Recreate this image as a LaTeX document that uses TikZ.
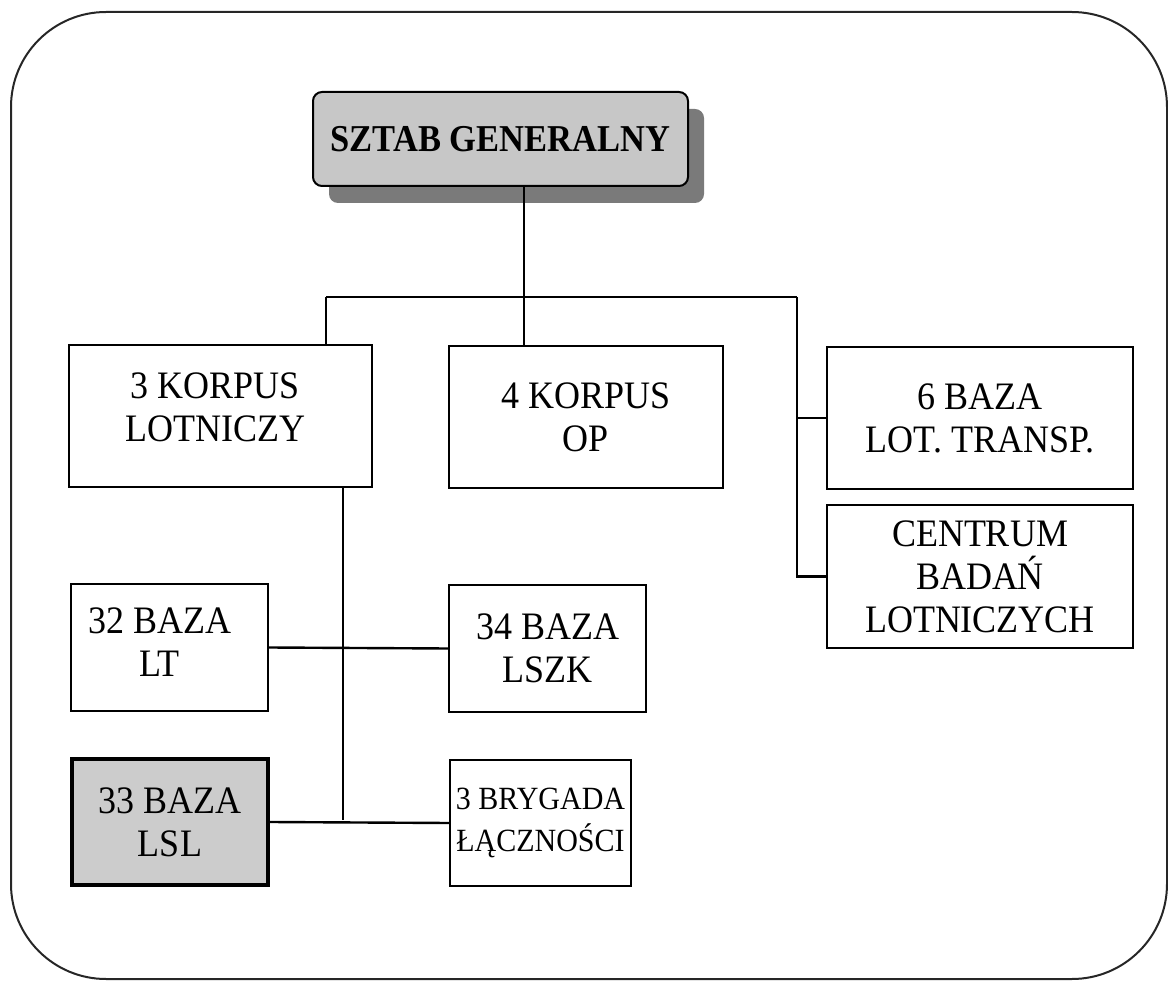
\documentclass[tikz,border=0pt]{standalone}
\usepackage{graphicx}
\usepackage{fontspec}
\setmainfont{Liberation Serif}
\newcommand\vst[1]{\scalebox{1}[1.08]{#1}}
\begin{document}
\begin{tikzpicture}[x=1pt,y=-1pt,
  unitbox/.style={draw=black, line width=1.8pt, fill=white, rectangle, align=center,
    inner sep=0pt, font=\fontsize{36}{43}\selectfont},
  txt/.style={align=center, inner sep=0pt, font=\fontsize{36}{43}\selectfont},
  conn/.style={draw=black, line width=2.4pt},
  frame/.style={draw=black!85, line width=2pt, rounded corners=95pt}]
\useasboundingbox (0,0) rectangle (1168,981);
\draw[frame] (11,12) rectangle (1167,979);

% headquarters with shadow
\node[rectangle, rounded corners=9pt, fill=black!52, minimum width=375pt, minimum height=94pt]
  (sztabshadow) at (516.5,156) {};
\node[rectangle, rounded corners=9pt, draw=black, line width=2pt, fill=black!22,
  minimum width=375pt, minimum height=94pt, inner sep=0pt,
  font=\fontsize{34.5}{40}\selectfont\bfseries] (sztab) at (500.5,139) {\scalebox{1}[1.1]{SZTAB GENERALNY}};

% level 1
\node[unitbox, minimum width=303pt, minimum height=142pt] (k3) at (220.5,416) {};
\node[txt, yshift=9pt, xshift=-5pt] (k3t) at (k3) {\vst{3 KORPUS}\\\vst{LOTNICZY}};
\node[unitbox, minimum width=274pt, minimum height=142pt] (k4) at (586,417) {\vst{4 KORPUS}\\\vst{OP}};
\node[unitbox, minimum width=306pt, minimum height=142pt] (b6) at (980,418) {\vst{6 BAZA}\\\vst{LOT. TRANSP.}};
\node[unitbox, minimum width=306pt, minimum height=143pt] (cbl) at (980,576.5) {\vst{CENTRUM}\\\vst{BADAŃ}\\\vst{LOTNICZYCH}};

% level 2
\node[unitbox, minimum width=197pt, minimum height=127pt] (b32) at (169.5,647.5) {};
\node[txt, yshift=5pt, xshift=-10pt] (b32t) at (b32) {\vst{32 BAZA}\\\vst{LT}};
\node[unitbox, minimum width=197pt, minimum height=127pt] (b34) at (547.5,648.5) {\vst{34 BAZA}\\\vst{LSZK}};
\node[unitbox, line width=4pt, fill=black!20, minimum width=196pt, minimum height=126pt] (b33) at (170,822) {\vst{33 BAZA}\\\vst{LSL}};
\node[unitbox, minimum width=181pt, minimum height=126pt, font=\fontsize{30}{42}\selectfont] (bryg) at (540.5,823) {\vst{3 BRYGADA}\\\vst{ŁĄCZNOŚCI}};

% junction coordinates
\coordinate (jc) at (524,297);
\coordinate (jl) at (326,297);
\coordinate (jr) at (797,297);
\coordinate (jv) at (343,820);

% connectors
\draw[conn] (jc |- sztab.south) -- (jc |- k4.north);
\draw[conn] (jl) -- (jr);
\draw[conn] (jl) -- (jl |- k3.north);
\draw[conn] (jr) -- (jr |- cbl.west) -- (cbl.west);
\draw[conn] (jr |- b6.west) -- (b6.west);
\draw[conn] (jv |- k3.south) -- (jv);
\draw[conn] (b32.east) -- (b34.west);
\draw[conn] (b33.east) -- (bryg.west);
\end{tikzpicture}
\end{document}
